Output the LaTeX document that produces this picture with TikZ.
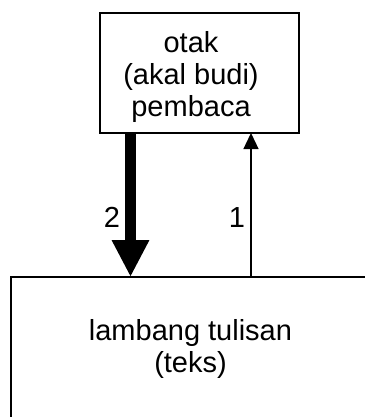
\documentclass[tikz,border=0pt]{standalone}
\usepackage{fontspec}
\setmainfont{Liberation Sans}
\usetikzlibrary{arrows.meta}
\tikzset{
  boxnode/.style={draw=black, line width=1.3bp, rectangle, inner sep=0pt, outer sep=0pt},
  txt/.style={inner sep=0pt, outer sep=0pt, anchor=base, font=\fontsize{29bp}{32bp}\selectfont},
  thickarrow/.style={line width=10.7bp, -{Triangle[length=37bp,width=35bp]}},
  thinarrow/.style={line width=1.3bp, -{Triangle[length=16bp,width=15bp]}}
}
\begin{document}
\begin{tikzpicture}[x=1bp,y=-1bp]
\useasboundingbox (0,0) rectangle (365,417);
\clip (0,0) rectangle (365,417);
\fill[white] (0,0) rectangle (365,417);
% boxes
\node[boxnode, minimum width=199bp, minimum height=120bp] (otak) at (199.5,73) {};
\node[boxnode, minimum width=359bp, minimum height=143bp] (teks) at (190.5,348.5) {};
% texts
\node[txt] (t1) at (191,52) {otak};
\node[txt] (t2) at (191,84) {(akal budi)};
\node[txt] (t3) at (191,116) {pembaca};
\node[txt] (t4) at (190.5,340) {lambang tulisan};
\node[txt] (t5) at (190.5,372) {(teks)};
% connectors
\coordinate (cx2) at (130.5,0);
\coordinate (cx1) at (251,0);
\draw[thickarrow] (cx2 |- otak.south) -- (cx2 |- teks.north);
\draw[thinarrow] (cx1 |- teks.north) -- (cx1 |- otak.south);
% labels
\node[txt] (l2) at (112,227) {2};
\node[txt] (l1) at (237,227) {1};
\end{tikzpicture}
\end{document}
